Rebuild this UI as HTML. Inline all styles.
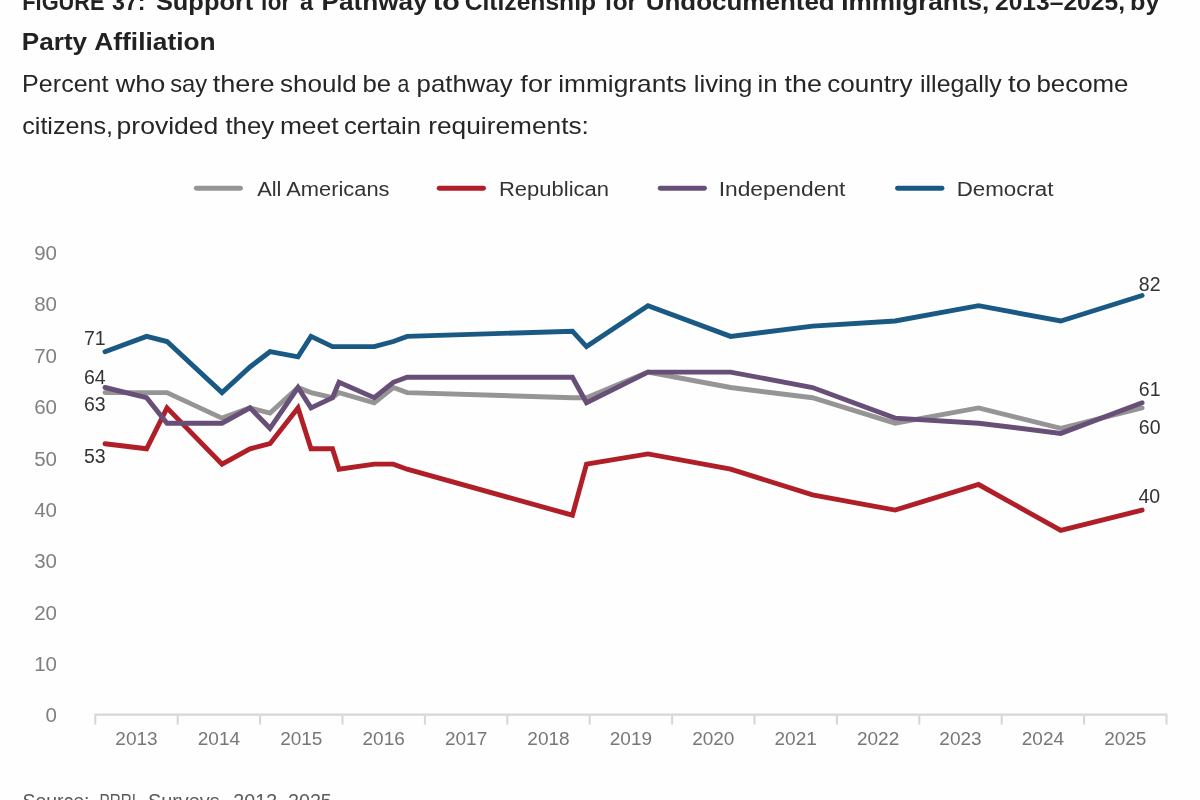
<!DOCTYPE html>
<html><head><meta charset="utf-8"><title>Figure 37</title>
<style>
html,body{margin:0;padding:0;background:#fefefe;}
body{width:1200px;height:800px;overflow:hidden;position:relative;font-family:"Liberation Sans",sans-serif;}
svg{position:absolute;left:0;top:0;will-change:transform;}
text{font-family:"Liberation Sans",sans-serif;}
.t1{font-size:24px;font-weight:bold;fill:#222;}
.st{font-size:24px;fill:#262626;}
.yl{font-size:20.5px;fill:#808080;text-anchor:end;}
.xl{font-size:19px;fill:#777;text-anchor:middle;}
.dl{font-size:19.5px;fill:#333;}
.lg{font-size:20px;fill:#333;}
.src{font-size:19.5px;fill:#5a5a5a;}
</style></head>
<body>
<svg width="1200" height="800" viewBox="0 0 1200 800">
<text x="22.28" y="9.7" class="t1" textLength="82.35" lengthAdjust="spacingAndGlyphs">FIGURE</text>
<text x="111.98" y="9.7" class="t1" textLength="33.53" lengthAdjust="spacingAndGlyphs">37:</text>
<text x="155.94" y="9.7" class="t1" textLength="97.28" lengthAdjust="spacingAndGlyphs">Support</text>
<text x="260.41" y="9.7" class="t1" textLength="29.88" lengthAdjust="spacingAndGlyphs">for</text>
<text x="300.10" y="9.7" class="t1" textLength="13.06" lengthAdjust="spacingAndGlyphs">a</text>
<text x="321.43" y="9.7" class="t1" textLength="106.26" lengthAdjust="spacingAndGlyphs">Pathway</text>
<text x="432.74" y="9.7" class="t1" textLength="27.13" lengthAdjust="spacingAndGlyphs">to</text>
<text x="464.72" y="9.7" class="t1" textLength="131.30" lengthAdjust="spacingAndGlyphs">Citizenship</text>
<text x="604.57" y="9.7" class="t1" textLength="32.44" lengthAdjust="spacingAndGlyphs">for</text>
<text x="645.74" y="9.7" class="t1" textLength="188.96" lengthAdjust="spacingAndGlyphs">Undocumented</text>
<text x="841.24" y="9.7" class="t1" textLength="148.04" lengthAdjust="spacingAndGlyphs">Immigrants,</text>
<text x="994.94" y="9.7" class="t1" textLength="130.05" lengthAdjust="spacingAndGlyphs">2013–2025,</text>
<text x="1130.06" y="9.7" class="t1" textLength="29.42" lengthAdjust="spacingAndGlyphs">by</text>
<text x="21.84" y="50.4" class="t1" textLength="65.33" lengthAdjust="spacingAndGlyphs">Party</text>
<text x="94.34" y="50.4" class="t1" textLength="121.25" lengthAdjust="spacingAndGlyphs">Affiliation</text>
<text x="22.13" y="92" class="st" textLength="86.39" lengthAdjust="spacingAndGlyphs">Percent</text>
<text x="115.80" y="92" class="st" textLength="49.53" lengthAdjust="spacingAndGlyphs">who</text>
<text x="170.15" y="92" class="st" textLength="36.94" lengthAdjust="spacingAndGlyphs">say</text>
<text x="212.69" y="92" class="st" textLength="61.81" lengthAdjust="spacingAndGlyphs">there</text>
<text x="280.09" y="92" class="st" textLength="76.59" lengthAdjust="spacingAndGlyphs">should</text>
<text x="362.53" y="92" class="st" textLength="28.63" lengthAdjust="spacingAndGlyphs">be</text>
<text x="397.40" y="92" class="st" textLength="11.83" lengthAdjust="spacingAndGlyphs">a</text>
<text x="416.63" y="92" class="st" textLength="95.93" lengthAdjust="spacingAndGlyphs">pathway</text>
<text x="520.39" y="92" class="st" textLength="31.70" lengthAdjust="spacingAndGlyphs">for</text>
<text x="558.23" y="92" class="st" textLength="128.49" lengthAdjust="spacingAndGlyphs">immigrants</text>
<text x="693.76" y="92" class="st" textLength="58.68" lengthAdjust="spacingAndGlyphs">living</text>
<text x="757.46" y="92" class="st" textLength="20.03" lengthAdjust="spacingAndGlyphs">in</text>
<text x="784.60" y="92" class="st" textLength="37.35" lengthAdjust="spacingAndGlyphs">the</text>
<text x="827.19" y="92" class="st" textLength="85.35" lengthAdjust="spacingAndGlyphs">country</text>
<text x="920.02" y="92" class="st" textLength="81.73" lengthAdjust="spacingAndGlyphs">illegally</text>
<text x="1008.09" y="92" class="st" textLength="23.06" lengthAdjust="spacingAndGlyphs">to</text>
<text x="1036.42" y="92" class="st" textLength="92.09" lengthAdjust="spacingAndGlyphs">become</text>
<text x="22.23" y="133.5" class="st" textLength="90.83" lengthAdjust="spacingAndGlyphs">citizens,</text>
<text x="116.57" y="133.5" class="st" textLength="101.81" lengthAdjust="spacingAndGlyphs">provided</text>
<text x="225.41" y="133.5" class="st" textLength="48.86" lengthAdjust="spacingAndGlyphs">they</text>
<text x="279.92" y="133.5" class="st" textLength="58.60" lengthAdjust="spacingAndGlyphs">meet</text>
<text x="343.91" y="133.5" class="st" textLength="77.00" lengthAdjust="spacingAndGlyphs">certain</text>
<text x="428.23" y="133.5" class="st" textLength="160.68" lengthAdjust="spacingAndGlyphs">requirements:</text>
<text x="57" y="722.4" class="yl">0</text>
<text x="57" y="671.0" class="yl">10</text>
<text x="57" y="619.6" class="yl">20</text>
<text x="57" y="568.3" class="yl">30</text>
<text x="57" y="516.9" class="yl">40</text>
<text x="57" y="465.5" class="yl">50</text>
<text x="57" y="414.1" class="yl">60</text>
<text x="57" y="362.8" class="yl">70</text>
<text x="57" y="311.4" class="yl">80</text>
<text x="57" y="260.0" class="yl">90</text>
<line x1="94.2" y1="714.7" x2="1167.4" y2="714.7" stroke="#d5d7d7" stroke-width="2.2"/>
<line x1="95.3" y1="715.5" x2="95.3" y2="724.6" stroke="#d5d7d7" stroke-width="2"/>
<line x1="177.7" y1="715.5" x2="177.7" y2="724.6" stroke="#d5d7d7" stroke-width="2"/>
<line x1="260.1" y1="715.5" x2="260.1" y2="724.6" stroke="#d5d7d7" stroke-width="2"/>
<line x1="342.5" y1="715.5" x2="342.5" y2="724.6" stroke="#d5d7d7" stroke-width="2"/>
<line x1="424.9" y1="715.5" x2="424.9" y2="724.6" stroke="#d5d7d7" stroke-width="2"/>
<line x1="507.3" y1="715.5" x2="507.3" y2="724.6" stroke="#d5d7d7" stroke-width="2"/>
<line x1="589.7" y1="715.5" x2="589.7" y2="724.6" stroke="#d5d7d7" stroke-width="2"/>
<line x1="672.1" y1="715.5" x2="672.1" y2="724.6" stroke="#d5d7d7" stroke-width="2"/>
<line x1="754.5" y1="715.5" x2="754.5" y2="724.6" stroke="#d5d7d7" stroke-width="2"/>
<line x1="836.9" y1="715.5" x2="836.9" y2="724.6" stroke="#d5d7d7" stroke-width="2"/>
<line x1="919.3" y1="715.5" x2="919.3" y2="724.6" stroke="#d5d7d7" stroke-width="2"/>
<line x1="1001.7" y1="715.5" x2="1001.7" y2="724.6" stroke="#d5d7d7" stroke-width="2"/>
<line x1="1084.1" y1="715.5" x2="1084.1" y2="724.6" stroke="#d5d7d7" stroke-width="2"/>
<line x1="1166.5" y1="715.5" x2="1166.5" y2="724.6" stroke="#d5d7d7" stroke-width="2"/>
<text x="136.5" y="744.7" class="xl">2013</text>
<text x="218.9" y="744.7" class="xl">2014</text>
<text x="301.3" y="744.7" class="xl">2015</text>
<text x="383.7" y="744.7" class="xl">2016</text>
<text x="466.1" y="744.7" class="xl">2017</text>
<text x="548.5" y="744.7" class="xl">2018</text>
<text x="630.9" y="744.7" class="xl">2019</text>
<text x="713.3" y="744.7" class="xl">2020</text>
<text x="795.7" y="744.7" class="xl">2021</text>
<text x="878.1" y="744.7" class="xl">2022</text>
<text x="960.5" y="744.7" class="xl">2023</text>
<text x="1042.9" y="744.7" class="xl">2024</text>
<text x="1125.3" y="744.7" class="xl">2025</text>
<polyline points="105.0,392.6 146.6,392.6 167.0,392.6 222.0,418.1 250.0,407.9 270.0,413.0 298.0,387.5 311.0,392.6 332.5,397.7 339.0,392.6 374.2,402.8 393.3,387.5 407.1,392.6 572.4,397.7 586.5,397.7 648.0,372.1 730.6,387.5 812.5,397.7 895.1,423.2 978.6,407.9 1060.8,428.3 1142.1,407.9" fill="none" stroke="#959595" stroke-width="4.9" stroke-linejoin="miter" stroke-linecap="round"/>
<polyline points="105.0,443.7 146.6,448.8 167.0,407.9 222.0,464.1 250.0,448.8 270.0,443.7 298.0,407.9 311.0,448.8 332.5,448.8 339.0,469.2 374.2,464.1 393.3,464.1 407.1,469.2 572.4,515.2 586.5,464.1 648.0,453.9 730.6,469.2 812.5,494.8 895.1,510.1 978.6,484.5 1060.8,530.5 1142.1,510.1" fill="none" stroke="#b01f27" stroke-width="4.9" stroke-linejoin="miter" stroke-linecap="round"/>
<polyline points="105.0,387.5 146.6,397.7 167.0,423.2 222.0,423.2 250.0,407.9 270.0,428.3 298.0,387.5 311.0,407.9 332.5,397.7 339.0,382.3 374.2,397.7 393.3,382.3 407.1,377.2 572.4,377.2 586.5,402.8 648.0,372.1 730.6,372.1 812.5,387.5 895.1,418.1 978.6,423.2 1060.8,433.4 1142.1,402.8" fill="none" stroke="#684f78" stroke-width="4.9" stroke-linejoin="miter" stroke-linecap="round"/>
<polyline points="105.0,351.7 146.6,336.4 167.0,341.5 222.0,392.6 250.0,367.0 270.0,351.7 298.0,356.8 311.0,336.4 332.5,346.6 339.0,346.6 374.2,346.6 393.3,341.5 407.1,336.4 572.4,331.2 586.5,346.6 648.0,305.7 730.6,336.4 812.5,326.1 895.1,321.0 978.6,305.7 1060.8,321.0 1142.1,295.5" fill="none" stroke="#1a5984" stroke-width="4.9" stroke-linejoin="miter" stroke-linecap="round"/>
<text x="84" y="345.3" class="dl">71</text>
<text x="84" y="383.8" class="dl">64</text>
<text x="84" y="411" class="dl">63</text>
<text x="84" y="462.5" class="dl">53</text>
<text x="1138.8" y="290.8" class="dl">82</text>
<text x="1138.8" y="396" class="dl">61</text>
<text x="1138.8" y="434" class="dl">60</text>
<text x="1138.5" y="503.3" class="dl">40</text>
<line x1="196.3" y1="188.3" x2="240.5" y2="188.3" stroke="#959595" stroke-width="4.9" stroke-linecap="round"/>
<line x1="439.2" y1="188.3" x2="483.5" y2="188.3" stroke="#b01f27" stroke-width="4.9" stroke-linecap="round"/>
<line x1="660.2" y1="188.3" x2="704.5" y2="188.3" stroke="#684f78" stroke-width="4.9" stroke-linecap="round"/>
<line x1="897.5" y1="188.3" x2="942" y2="188.3" stroke="#1a5984" stroke-width="4.9" stroke-linecap="round"/>
<text x="257.15" y="196" class="lg" textLength="132.38" lengthAdjust="spacingAndGlyphs">All Americans</text>
<text x="498.99" y="196" class="lg" textLength="109.97" lengthAdjust="spacingAndGlyphs">Republican</text>
<text x="718.69" y="196" class="lg" textLength="126.71" lengthAdjust="spacingAndGlyphs">Independent</text>
<text x="956.66" y="196" class="lg" textLength="96.80" lengthAdjust="spacingAndGlyphs">Democrat</text>
<text x="22.42" y="807.5" class="src" textLength="67.05" lengthAdjust="spacingAndGlyphs">Source:</text>
<text x="99.54" y="807.5" class="src" textLength="36.35" lengthAdjust="spacingAndGlyphs">PRRI</text>
<text x="147.90" y="807.5" class="src" textLength="77.39" lengthAdjust="spacingAndGlyphs">Surveys,</text>
<text x="233.32" y="807.5" class="src" textLength="98.48" lengthAdjust="spacingAndGlyphs">2013–2025</text>
</svg>
</body></html>
